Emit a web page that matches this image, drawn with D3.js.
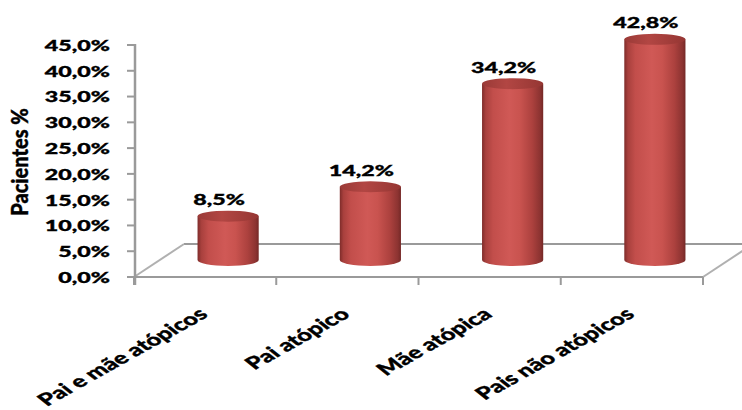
<!DOCTYPE html>
<html>
<head>
<meta charset="utf-8">
<script src="https://cdn.jsdelivr.net/npm/d3@7"></script>
<style>
  html, body { margin: 0; padding: 0; background: #fff; }
  svg { display: block; }
  text { font-family: Lato, "Open Sans", sans-serif; font-weight: 900; fill: #000; stroke: #000; stroke-width: 0.35px; }
</style>
</head>
<body>
<svg id="chart" width="742" height="410"></svg>
<script>
// Chart data
const categories = ["Pai e mãe atópicos", "Pai atópico", "Mãe atópica", "Pais não atópicos"];
const values = [8.5, 14.2, 34.2, 42.8];
const valueLabels = ["8,5%", "14,2%", "34,2%", "42,8%"];
const yTicks = [0, 5, 10, 15, 20, 25, 30, 35, 40, 45];
const yTickLabels = ["0,0%", "5,0%", "10,0%", "15,0%", "20,0%", "25,0%", "30,0%", "35,0%", "40,0%", "45,0%"];
const yTitle = "Pacientes %";

(function () {
const svg = d3.select("#chart");

// Plot frame (front edge of the floor) and depth offset of the 3D box
const plotLeft = 134, plotRight = 703, plotBottom = 277, plotTop = 45;
const depth = { dx: 50, dy: -33 };
const barShift = { dx: 23, dy: -17 };   // bars sit midway into the depth
const textStretch = 1.5;                // horizontal text stretch
const axisColor = "#9a9a9a";

const x = d3.scaleBand().domain(categories).range([plotLeft, plotRight]).paddingInner(0).paddingOuter(0);
const y = d3.scaleLinear().domain([0, 45]).range([plotBottom, plotTop]);

// Floor of the 3D box
const floor = svg.append("g").attr("stroke", axisColor).attr("stroke-width", 2).attr("fill", "none");
floor.append("line").attr("x1", plotLeft + depth.dx).attr("y1", plotBottom + depth.dy)
  .attr("x2", plotRight + depth.dx).attr("y2", plotBottom + depth.dy);
floor.append("line").attr("x1", plotLeft).attr("y1", plotBottom)
  .attr("x2", plotLeft + depth.dx).attr("y2", plotBottom + depth.dy).attr("stroke", "#b0b0b0");
floor.append("line").attr("x1", plotRight).attr("y1", plotBottom)
  .attr("x2", plotRight + depth.dx).attr("y2", plotBottom + depth.dy).attr("stroke", "#b0b0b0");

// Cylinder gradients
const defs = svg.append("defs");
const bodyGrad = defs.append("linearGradient").attr("id", "cylBody").attr("x1", "0").attr("x2", "1").attr("y1", "0").attr("y2", "0");
[["0%", "#7e2c2a"], ["6%", "#a8403d"], ["18%", "#c24e4b"], ["45%", "#d05956"], ["62%", "#c9534f"],
 ["82%", "#ac413e"], ["95%", "#8c3331"], ["100%", "#742826"]]
  .forEach(([o, c]) => bodyGrad.append("stop").attr("offset", o).attr("stop-color", c));
const capGrad = defs.append("linearGradient").attr("id", "cylCap").attr("x1", "0").attr("x2", "1").attr("y1", "0").attr("y2", "0");
[["0%", "#9a3a37"], ["40%", "#b24643"], ["100%", "#953633"]]
  .forEach(([o, c]) => capGrad.append("stop").attr("offset", o).attr("stop-color", c));

// Bars as cylinders
const rx = x.bandwidth() * 0.215;
const ryTop = 5.5, ryBottom = 6;
const baseY = y(0) + barShift.dy;
const bars = svg.append("g");
categories.forEach((c, i) => {
  const cx = x(c) + x.bandwidth() / 2 + barShift.dx;
  const topY = y(values[i]) + barShift.dy;
  bars.append("path")
    .attr("d", `M${cx - rx},${topY} L${cx - rx},${baseY} A${rx},${ryBottom} 0 0 0 ${cx + rx},${baseY} L${cx + rx},${topY} Z`)
    .attr("fill", "url(#cylBody)");
  bars.append("ellipse").attr("cx", cx).attr("cy", topY).attr("rx", rx).attr("ry", ryTop)
    .attr("fill", "url(#cylCap)");
  // value label
  svg.append("text")
    .attr("transform", `translate(${cx - 9},${topY - 11}) scale(${textStretch},1)`)
    .attr("text-anchor", "middle")
    .attr("font-size", 15.5)
    .text(valueLabels[i]);
});

// Value axis
const yAxis = svg.append("g").attr("stroke", axisColor).attr("stroke-width", 2);
yAxis.append("line").attr("x1", plotLeft + 1).attr("x2", plotLeft + 1).attr("y1", y(45) - 1).attr("y2", plotBottom + 8).attr("stroke-width", 2.5);
yTicks.forEach(t => {
  yAxis.append("line").attr("x1", plotLeft - 7).attr("x2", plotLeft).attr("y1", y(t)).attr("y2", y(t));
});
yTicks.forEach((t, i) => {
  svg.append("text")
    .attr("transform", `translate(110,${y(t)}) scale(${textStretch},1)`)
    .attr("text-anchor", "end")
    .attr("dominant-baseline", "central")
    .attr("font-size", 15.5)
    .text(yTickLabels[i]);
});

// Category axis (front edge of floor)
const xAxis = svg.append("g").attr("stroke", axisColor).attr("stroke-width", 2);
xAxis.append("line").attr("x1", plotLeft).attr("x2", plotRight).attr("y1", plotBottom).attr("y2", plotBottom);
categories.concat([null]).forEach(c => {
  const tx = c === null ? plotRight : x(c);
  xAxis.append("line").attr("x1", tx).attr("x2", tx).attr("y1", plotBottom).attr("y2", plotBottom + 8);
});
categories.forEach(c => {
  const cx = x(c) + x.bandwidth() / 2;
  svg.append("text")
    .attr("transform", `translate(${cx + 4},316) scale(${textStretch},1) rotate(-40)`)
    .attr("text-anchor", "end")
    .attr("font-size", 17)
    .text(c);
});

// Axis title
svg.append("text")
  .attr("transform", `translate(28,162) scale(1.15,1) rotate(-90)`)
  .attr("text-anchor", "middle")
  .attr("font-size", 20)
  .text(yTitle);
})();
</script>
</body>
</html>
